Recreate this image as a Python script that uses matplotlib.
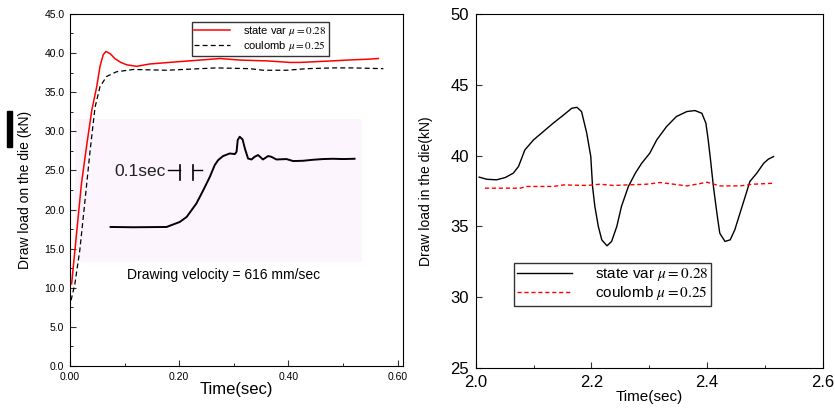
import matplotlib
matplotlib.use("Agg")
import matplotlib.pyplot as plt
from matplotlib.patches import Rectangle
from matplotlib.ticker import MultipleLocator
import numpy as np

plt.rcParams['font.family'] = ['Liberation Sans', 'DejaVu Sans']
plt.rcParams['mathtext.fontset'] = 'stix'

# ---- left panel: start-up transient ----
t_state = [0.003, 0.012, 0.021, 0.031, 0.040, 0.049, 0.055, 0.061, 0.066, 0.074, 0.082,
           0.093, 0.104, 0.122, 0.146, 0.200, 0.238, 0.275, 0.311, 0.360, 0.403, 0.421,
           0.452, 0.482, 0.507, 0.543, 0.565]
load_state = [10.5, 16.9, 23.3, 28.4, 32.7, 35.7, 38.3, 39.8, 40.2, 39.9, 39.3,
              38.8, 38.5, 38.3, 38.6, 38.9, 39.1, 39.3, 39.1, 39.0, 38.8, 38.8,
              38.9, 39.0, 39.1, 39.2, 39.3]

t_coul = [0.002, 0.009, 0.018, 0.027, 0.037, 0.046, 0.055, 0.067, 0.085, 0.116, 0.177,
          0.238, 0.268, 0.330, 0.354, 0.397, 0.433, 0.482, 0.519, 0.574]
load_coul = [8.4, 10.5, 14.8, 20.8, 27.6, 33.1, 35.7, 37.0, 37.6, 37.9, 37.8,
             38.0, 38.1, 38.0, 37.8, 37.8, 38.0, 38.1, 38.1, 38.0]

# inset: measured trace (normalised picture coordinates)
inset_u = [0.124, 0.203, 0.319, 0.365, 0.389, 0.406, 0.423, 0.447, 0.470, 0.487, 0.499,
           0.516, 0.539, 0.557, 0.563, 0.567, 0.574, 0.584, 0.592, 0.603, 0.615, 0.626,
           0.638, 0.655, 0.673, 0.684, 0.702, 0.737, 0.760, 0.795, 0.829, 0.864, 0.899,
           0.934, 0.974]
inset_v = [0.245, 0.243, 0.245, 0.280, 0.315, 0.362, 0.409, 0.502, 0.596, 0.678, 0.713,
           0.741, 0.759, 0.755, 0.771, 0.853, 0.876, 0.857, 0.794, 0.724, 0.717, 0.736,
           0.748, 0.717, 0.741, 0.736, 0.717, 0.720, 0.706, 0.708, 0.715, 0.720, 0.722,
           0.720, 0.722]

# ---- right panel: steady-state oscillation ----
t2_state = [2.006, 2.019, 2.036, 2.051, 2.065, 2.074, 2.085, 2.100, 2.117, 2.134, 2.152,
            2.166, 2.175, 2.183, 2.192, 2.199, 2.202, 2.206, 2.212, 2.218, 2.227, 2.235,
            2.244, 2.252, 2.264, 2.276, 2.287, 2.301, 2.313, 2.330, 2.347, 2.365, 2.379,
            2.391, 2.398, 2.402, 2.406, 2.411, 2.417, 2.422, 2.431, 2.440, 2.448, 2.457,
            2.466, 2.474, 2.486, 2.498, 2.506, 2.515]
load2_state = [38.48, 38.33, 38.29, 38.45, 38.76, 39.23, 40.40, 41.11, 41.70, 42.29, 42.87,
               43.34, 43.41, 43.11, 41.58, 39.93, 37.82, 36.41, 35.00, 34.05, 33.63, 33.94,
               35.00, 36.41, 37.82, 38.76, 39.46, 40.17, 41.11, 42.05, 42.76, 43.11, 43.18,
               42.99, 42.29, 41.11, 39.70, 37.82, 35.94, 34.52, 33.94, 34.05, 34.76, 35.94,
               37.11, 38.17, 38.76, 39.46, 39.75, 39.93]

t2_coul = [2.016, 2.077, 2.088, 2.134, 2.152, 2.192, 2.215, 2.238, 2.261, 2.296, 2.319,
           2.342, 2.365, 2.382, 2.400, 2.422, 2.457, 2.480, 2.515]
load2_coul = [37.70, 37.70, 37.82, 37.82, 37.93, 37.89, 37.98, 37.89, 37.93, 37.98, 38.10,
              37.98, 37.86, 37.98, 38.12, 37.86, 37.86, 37.98, 38.05]

label_state = r'state var $\mu = 0.28$'
label_coul = r'coulomb $\mu = 0.25$'

fig = plt.figure(figsize=(8.35, 4.09), dpi=100)

# pink inset picture behind left axes
axin = fig.add_axes([0.0898, 0.3594, 0.3437, 0.3496], zorder=0)
axin.set_facecolor('#fdf5fd')
for s in axin.spines.values():
    s.set_visible(False)
axin.set_xticks([])
axin.set_yticks([])
axin.set_xlim(0, 1)
axin.set_ylim(0, 1)
axin.plot(inset_u, inset_v, color='black', lw=1.4)
axin.text(0.139, 0.631, '0.1sec', fontsize=12.5, va='center', ha='left', color='#222222')
axin.plot([0.325, 0.365], [0.643, 0.643], color='black', lw=1)
axin.plot([0.365, 0.365], [0.572, 0.677], color='black', lw=1.2)
axin.plot([0.410, 0.410], [0.572, 0.677], color='black', lw=1.2)
axin.plot([0.410, 0.441], [0.643, 0.643], color='black', lw=1)

ax1 = fig.add_axes([0.0838, 0.105, 0.3988, 0.861], zorder=1)
ax1.patch.set_visible(False)
ax1.plot(t_state, load_state, color='red', lw=1.1, label=label_state)
ax1.plot(t_coul, load_coul, color='black', lw=0.9, ls=(0, (4, 2.5)), label=label_coul)
ax1.set_xlim(0, 0.61)
ax1.set_ylim(0, 45)
ax1.set_xticks([0, 0.2, 0.4, 0.6])
ax1.set_xticklabels(['0.00', '0.20', '0.40', '0.60'])
ax1.set_yticks(np.arange(0, 45.1, 5))
ax1.set_yticklabels(['%.1f' % v for v in np.arange(0, 45.1, 5)])
ax1.xaxis.set_minor_locator(MultipleLocator(0.1))
ax1.yaxis.set_minor_locator(MultipleLocator(2.5))
ax1.tick_params(direction='in', labelsize=7.5, length=4, pad=4, color='#333333')
ax1.tick_params(which='minor', direction='in', length=2.5)
ax1.set_xlabel('Time(sec)', fontsize=12, labelpad=0)
ax1.set_ylabel('Draw load on the die (kN)', fontsize=10, labelpad=9)
ax1.text(0.104, 11.6, 'Drawing velocity = 616 mm/sec', fontsize=10, va='center', ha='left')
leg1 = ax1.legend(loc='upper left', bbox_to_anchor=(0.366, 0.977), fontsize=8,
                  frameon=True, fancybox=False, edgecolor='black', handlelength=3.2,
                  borderpad=0.2, labelspacing=0.1, handletextpad=1.2, borderaxespad=0)
leg1.get_frame().set_linewidth(1)

# black bar at the far left
fig.add_artist(Rectangle((7 / 835, 1 - 147 / 409), 5 / 835, 36 / 409,
                         transform=fig.transFigure, color='black'))

ax2 = fig.add_axes([0.5697, 0.1002, 0.4156, 0.8656])
ax2.plot(t2_state, load2_state, color='black', lw=1, label=label_state)
ax2.plot(t2_coul, load2_coul, color='red', lw=1, ls=(0, (3, 2)), label=label_coul)
ax2.set_xlim(2.0, 2.6)
ax2.set_ylim(25, 50)
ax2.set_xticks([2.0, 2.2, 2.4, 2.6])
ax2.set_xticklabels(['2.0', '2.2', '2.4', '2.6'])
ax2.set_yticks([25, 30, 35, 40, 45, 50])
ax2.xaxis.set_minor_locator(MultipleLocator(0.1))
ax2.tick_params(direction='in', labelsize=12, length=4, pad=5, color='#333333')
ax2.tick_params(which='minor', direction='in', length=2.5)
ax2.set_xlabel('Time(sec)', fontsize=11, labelpad=0)
ax2.set_ylabel('Draw load in the die(kN)', fontsize=10, labelpad=12)
leg2 = ax2.legend(loc='upper left', bbox_to_anchor=(0.110, 0.297), fontsize=11,
                  frameon=True, fancybox=False, edgecolor='black', handlelength=3.6,
                  borderpad=0.2, labelspacing=0.1, handletextpad=1.5, borderaxespad=0)
leg2.get_frame().set_linewidth(1)

fig.savefig('out.png', dpi=100)
